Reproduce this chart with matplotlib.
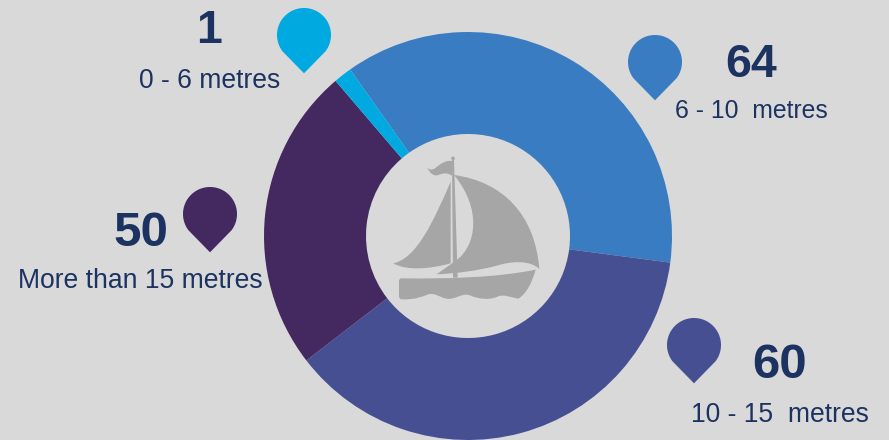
import matplotlib
matplotlib.use("Agg")
import numpy as np
import matplotlib.pyplot as plt
from matplotlib.path import Path
from matplotlib.patches import PathPatch, Circle, Polygon

plt.rcParams['font.family'] = ['Liberation Sans', 'DejaVu Sans']

# Data -----------------------------------------------------------------
categories = ["6 - 10  metres", "10 - 15  metres", "More than 15 metres", "0 - 6 metres"]
count_labels = ["64", "60", "50", "1"]
# Wedge sizes as drawn in the picture (share of the ring, in degrees)
wedge_sizes = [132.8, 134.9, 87.1, 5.2]
colors = ["#397cc1", "#464f92", "#43295f", "#00a9e0"]

BG = "#d9d9d9"
NAVY = "#1c3260"
GREY = "#a6a6a6"

W, H = 889, 440
fig = plt.figure(figsize=(W / 100, H / 100), dpi=100, facecolor=BG)

# Ring (y-up axes so the pie keeps its clockwise order)
ax2 = fig.add_axes([0, 0, 1, 1])
ax2.pie(wedge_sizes, colors=colors, startangle=125.3, counterclock=False,
        center=(468, H - 236), radius=204, frame=True,
        wedgeprops=dict(width=102, linewidth=0))
ax2.set_xlim(0, W)
ax2.set_ylim(0, H)
ax2.set_aspect("auto")
ax2.axis("off")

ax3 = fig.add_axes([0, 0, 1, 1])
ax3.set_xlim(0, W)
ax3.set_ylim(H, 0)
ax3.axis("off")
ax3.patch.set_alpha(0)


def pin(cx, cy, color, r=27.0, tip=38.3):
    a = np.radians(np.linspace(143, 143 + 254, 80))
    pts = [(cx + r * np.cos(t), cy + r * np.sin(t)) for t in a]
    pts = [(cx, cy + tip)] + pts
    ax3.add_patch(Polygon(pts, closed=True, facecolor=color, edgecolor="none"))


pin(304, 35, colors[3])
pin(655, 62, colors[0])
pin(694, 345, colors[1])
pin(210, 214, colors[2])


# Boat icon ------------------------------------------------------------
def z(x, y):
    return (380 + x / 3.0, 145 + y / 3.0)


def shape(start, segs):
    verts = [z(*start)]
    codes = [Path.MOVETO]
    for s in segs:
        if len(s) == 1:
            verts.append(z(*s[0]))
            codes.append(Path.LINETO)
        else:
            verts.extend(z(*p) for p in s)
            codes.extend([Path.CURVE4] * 3)
    verts.append(verts[0])
    codes.append(Path.CLOSEPOLY)
    ax3.add_patch(PathPatch(Path(verts, codes), facecolor=GREY, edgecolor="none"))


# flag
shape((141, 67), [((150, 85), (160, 93), (172, 91)),
                  ((190, 84), (200, 82), (216, 92)),
                  [(216, 48)],
                  ((195, 45), (180, 58), (165, 70)),
                  ((157, 75), (148, 76), (141, 67))])
# mast
shape((216, 45), [[(222, 45)], [(233, 398)], [(219, 398)]])
ax3.add_patch(Circle(z(219, 40), 1.8, facecolor=GREY, edgecolor="none"))
# left sail
shape((212, 110), [((160, 230), (110, 340), (40, 355)),
                   ((80, 378), (150, 372), (212, 355))])
# right sail
shape((222, 90), [((370, 110), (465, 210), (478, 372)),
                  ((450, 345), (395, 348), (350, 362)),
                  ((290, 378), (230, 385), (170, 388)),
                  [(230, 345)],
                  ((290, 300), (305, 190), (222, 90))])
# hull
shape((62, 400), [((200, 402), (350, 398), (467, 374)),
                  ((455, 415), (440, 445), (415, 461)),
                  ((395, 458), (370, 445), (350, 456)),
                  ((325, 466), (295, 462), (270, 451)),
                  ((245, 442), (225, 466), (200, 461)),
                  ((180, 458), (165, 442), (145, 448)),
                  ((125, 455), (110, 464), (65, 463)),
                  ((60, 463), (57, 458), (57, 452)),
                  [(57, 405)]])


# Text -----------------------------------------------------------------
def num(x, y, s, size=33.5):
    ax3.text(x, y, s, color=NAVY, fontsize=size, fontweight="bold", ha="center", va="center")


def lab(x, y, s, size=19.1):
    ax3.text(x, y, s, color=NAVY, fontsize=size, ha="center", va="center")


num(209, 31, count_labels[3])
lab(209.5, 81, categories[3])
num(751, 65, count_labels[0])
lab(751, 111, categories[0], size=17.8)
num(779.5, 365, count_labels[1], size=35.5)
lab(779.5, 415, categories[1])
num(140.5, 233, count_labels[2], size=35.5)
lab(140.5, 281, categories[2])

fig.savefig("out.png", dpi=100, facecolor=BG)
